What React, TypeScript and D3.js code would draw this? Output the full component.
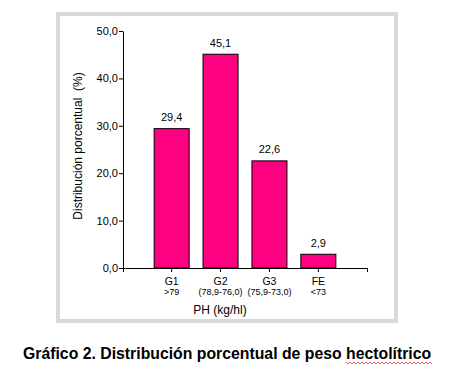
import React, { useRef, useEffect } from "react";
import * as d3 from "d3";

const categories = ["G1", "G2", "G3", "FE"];
const ranges = [">79", "(78,9-76,0)", "(75,9-73,0)", "<73"];
const values = [29.4, 45.1, 22.6, 2.9];
const yTicks = [0, 10, 20, 30, 40, 50];

const fmt = (v: number) => v.toFixed(1).replace(".", ",");

const App = () => {
  const ref = useRef<SVGSVGElement>(null);

  useEffect(() => {
    const svg = d3.select(ref.current);
    svg.selectAll("*").remove();
    const font = "Arial, 'Liberation Sans', sans-serif";

    // grey frame around the chart
    svg.append("rect")
      .attr("x", 58).attr("y", 14)
      .attr("width", 338).attr("height", 307)
      .attr("fill", "white")
      .attr("stroke", "#d9d9d9")
      .attr("stroke-width", 4);

    const x = d3.scaleBand<string>()
      .domain(categories)
      .range([123, 367])
      .paddingInner(0.284)
      .paddingOuter(0.637);

    const y = d3.scaleLinear().domain([0, 50]).range([268, 31]);

    const g = svg.append("g");

    g.selectAll("rect.bar")
      .data(values)
      .join("rect")
      .attr("class", "bar")
      .attr("x", (_, i) => x(categories[i])!)
      .attr("y", d => y(d))
      .attr("width", x.bandwidth())
      .attr("height", d => y(0) - y(d))
      .attr("fill", "#ff0080")
      .attr("stroke", "black")
      .attr("stroke-width", 1);

    g.selectAll("text.val")
      .data(values)
      .join("text")
      .attr("class", "val")
      .attr("x", (_, i) => x(categories[i])! + x.bandwidth() / 2)
      .attr("y", d => y(d) - 7.5)
      .attr("text-anchor", "middle")
      .attr("font-family", font)
      .attr("font-size", 11)
      .text(d => fmt(d));

    const yAxis = d3.axisLeft(y)
      .tickValues(yTicks)
      .tickFormat(d => fmt(d as number))
      .tickSize(4)
      .tickSizeOuter(0)
      .tickPadding(1);

    const yg = g.append("g")
      .attr("transform", `translate(123,0)`)
      .call(yAxis);
    yg.selectAll("text").attr("font-family", font).attr("font-size", 11).attr("fill", "black");

    const xAxis = d3.axisBottom(x).tickSize(4).tickSizeOuter(4).tickFormat(() => "");
    g.append("g")
      .attr("transform", `translate(0,268)`)
      .call(xAxis);

    g.selectAll("text.cat")
      .data(categories)
      .join("text")
      .attr("class", "cat")
      .attr("x", d => x(d)! + x.bandwidth() / 2)
      .attr("y", 285)
      .attr("text-anchor", "middle")
      .attr("font-family", font)
      .attr("font-size", 10.5)
      .text(d => d);

    g.selectAll("text.rng")
      .data(ranges)
      .join("text")
      .attr("class", "rng")
      .attr("x", (_, i) => x(categories[i])! + x.bandwidth() / 2)
      .attr("y", 295)
      .attr("text-anchor", "middle")
      .attr("font-family", font)
      .attr("font-size", 9)
      .text(d => d);

    g.append("text")
      .attr("x", 220)
      .attr("y", 314)
      .attr("text-anchor", "middle")
      .attr("font-family", font)
      .attr("font-size", 12)
      .text("PH (kg/hl)");

    g.append("text")
      .attr("transform", `translate(82,146) rotate(-90)`)
      .attr("text-anchor", "middle")
      .attr("font-family", font)
      .attr("font-size", 12)
      .style("white-space", "pre")
      .text("Distribución porcentual  (%)");

    const cap = svg.append("text")
      .attr("x", 23)
      .attr("y", 359)
      .attr("font-family", font)
      .attr("font-size", 15.8)
      .attr("font-weight", "bold");
    cap.append("tspan").text("Gráfico 2. Distribución porcentual de peso ");
    const last = cap.append("tspan").text("hectolítrico");

    // red spell-check squiggle under the last word
    const node = last.node() as SVGTextContentElement;
    const start = node.getStartPositionOfChar(0).x;
    const end = node.getEndPositionOfChar(node.getNumberOfChars() - 1).x;
    let p = `M${start},362`;
    for (let xx = start, k = 0; xx < end; xx += 2, k++) {
      p += ` L${xx + 2},${k % 2 === 0 ? 364 : 362}`;
    }
    svg.append("path")
      .attr("d", p)
      .attr("fill", "none")
      .attr("stroke", "#e03030")
      .attr("stroke-width", 0.8);
  }, []);

  return (
    <svg
      ref={ref}
      width={469}
      height={373}
      style={{ position: "absolute", left: 0, top: 0, background: "white" }}
    />
  );
};

export default App;
